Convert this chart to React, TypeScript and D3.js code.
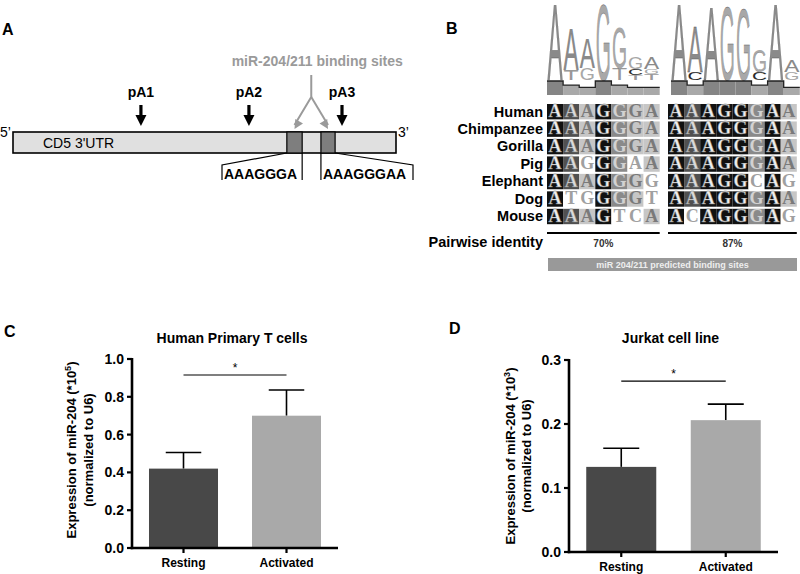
import React from 'react';
import * as d3 from 'd3';

// ---------- Panel A data ----------
const utrName = "CD5 3'UTR";
const polyASites = [
  { name: 'pA1', pos: 33.4 },
  { name: 'pA2', pos: 61.6 },
  { name: 'pA3', pos: 85.9 },
];
const bindingSites = [
  { start: 71.5, end: 75.5, seq: 'AAAGGGA' },
  { start: 80.4, end: 84.1, seq: 'AAAGGGAA' },
];
const bindingTitle = 'miR-204/211 binding sites';

// ---------- Panel B data ----------
const species = ['Human', 'Chimpanzee', 'Gorilla', 'Pig', 'Elephant', 'Dog', 'Mouse'];
const site1Seqs = ['AAAGGGA', 'AAAGGGA', 'AAAGGGA', 'AAGGGAA', 'AAAGGGG', 'ATGGGGT', 'AAAGTCA'];
const site1Shade = ['4314211', '4314211', '4314211', '4304201', '4314210', '4004210', '4314001'];
const site2Seqs = ['AAAGGGAA', 'AAAGGGAA', 'AAAGGGAA', 'AAAGGGAA', 'AAAGGCAG', 'AAAGGGAA', 'ACAGGGAG'];
const site2Shade = ['43444241', '43444241', '43444241', '43444241', '43444040', '43444241', '40444240'];
const identities = ['70%', '87%'];
const site1Logo: [string, number][][] = [
  [['A', 77]],
  [['T', 10], ['A', 43]],
  [['G', 12], ['A', 31]],
  [['G', 77]],
  [['T', 12], ['G', 41]],
  [['T', 5], ['C', 6], ['G', 12]],
  [['T', 6], ['G', 5], ['A', 12]],
];
const site2Logo: [string, number][][] = [
  [['A', 77]],
  [['C', 8], ['A', 47]],
  [['A', 75]],
  [['G', 75]],
  [['G', 73]],
  [['C', 8], ['G', 22]],
  [['A', 77]],
  [['G', 8], ['A', 12]],
];
const site1Conservation = [1, 0.7, 0.55, 1, 0.7, 0.55, 0.55];
const site2Conservation = [1, 0.7, 1, 1, 1, 0.7, 1, 0.55];
const predictedLabel = 'miR 204/211 predicted binding  sites';

// ---------- Panels C / D data ----------
const conditions = ['Resting', 'Activated'];
const primaryMeans = [0.42, 0.70];
const primaryErrors = [0.085, 0.136];
const primaryTicks = [0, 0.2, 0.4, 0.6, 0.8, 1.0];
const primarySig = 0.915;
const jurkatMeans = [0.133, 0.206];
const jurkatErrors = [0.029, 0.025];
const jurkatTicks = [0, 0.1, 0.2, 0.3];
const jurkatSig = 0.267;

const SANS = "'Liberation Sans', Arial, Helvetica, sans-serif";
const SERIF = "'Liberation Serif', 'Times New Roman', serif";

const shadeBg = ['#ffffff', '#c6c6c6', '#8a8a8a', '#505050', '#111111'];
const shadeFg = ['#a0a0a0', '#7a7a7a', '#d2d2d2', '#dadada', '#eeeeee'];
const adv: Record<string, number> = { A: 0.667, G: 0.778, C: 0.722, T: 0.611 };
const logoFill: Record<string, string> = { A: '#8a8a8a', G: '#a8a8a8', C: '#2a2a2a', T: '#9a9a9a' };

function PanelA() {
  const xs = d3.scaleLinear().domain([0, 100]).range([13, 396]);
  const barTop = 132, barBot = 153;
  const b1 = bindingSites[0], b2 = bindingSites[1];
  const c1 = xs((b1.start + b1.end) / 2), c2 = xs((b2.start + b2.end) / 2);
  const stemX = (c1 + c2) / 2;
  return (
    <g fontFamily={SANS}>
      <text x={2} y={35} fontSize={16} fontWeight="bold">A</text>
      <text x={stemX + 6} y={66} fontSize={14} fontWeight="bold" fill="#9a9a9a" textAnchor="middle">{bindingTitle}</text>
      <path d={`M${stemX},75 L${stemX},97 L${c1},125`} fill="none" stroke="#9a9a9a" strokeWidth={2} />
      <path d={`M${stemX},97 L${c2},125`} fill="none" stroke="#9a9a9a" strokeWidth={2} />
      {[c1, c2].map((c, i) => {
        const dx = (c - stemX), dy = 28;
        const len = Math.hypot(dx, dy);
        const ux = dx / len, uy = dy / len;
        const tx = c, ty = 129;
        const bx = tx - ux * 9, by = ty - uy * 9;
        return <path key={i} d={`M${tx},${ty} L${bx - uy * 4.5},${by + ux * 4.5} L${bx + uy * 4.5},${by - ux * 4.5} Z`} fill="#9a9a9a" />;
      })}
      {polyASites.map(p => {
        const x = xs(p.pos);
        return (
          <g key={p.name}>
            <text x={x} y={97} fontSize={14} fontWeight="bold" textAnchor="middle">{p.name}</text>
            <rect x={x - 1.6} y={105} width={3.2} height={12} fill="#000" />
            <path d={`M${x - 5.5},115 L${x + 5.5},115 L${x},126 Z`} fill="#000" />
          </g>
        );
      })}
      <rect x={xs(0)} y={barTop} width={xs(100) - xs(0)} height={barBot - barTop} fill="#e0e0e0" stroke="#000" strokeWidth={1.6} />
      <text x={0} y={137} fontSize={14}>5’</text>
      <text x={xs(100) + 2} y={137} fontSize={14}>3’</text>
      <text x={43} y={148} fontSize={14}>{utrName}</text>
      {bindingSites.map((b, i) => (
        <rect key={i} x={xs(b.start)} y={barTop} width={xs(b.end) - xs(b.start)} height={barBot - barTop} fill="#7e7e7e" stroke="#000" strokeWidth={1.2} />
      ))}
      <path d={`M${xs(b1.start)},${barBot} L222,165 L222,180`} fill="none" stroke="#000" strokeWidth={1.2} />
      <path d={`M${xs(b1.end)},${barBot} L${xs(b1.end)},180`} fill="none" stroke="#000" strokeWidth={1.2} />
      <path d={`M${xs(b2.start)},${barBot} L${xs(b2.start)},180`} fill="none" stroke="#000" strokeWidth={1.2} />
      <path d={`M${xs(b2.end)},${barBot} L413,165 L413,180`} fill="none" stroke="#000" strokeWidth={1.2} />
      <text x={224} y={179} fontSize={14} fontWeight="bold">{b1.seq}</text>
      <text x={323} y={179} fontSize={14} fontWeight="bold">{b2.seq}</text>
    </g>
  );
}

function Logo({ cols, cons, x0, cw }: { cols: [string, number][][]; cons: number[]; x0: number; cw: number }) {
  const base = 80;
  const hScale = d3.scaleLinear().domain([0, 1]).range([0, 14]);
  const barBottom = 95;
  const tops = cons.map(c => barBottom - hScale(c));
  let step = '';
  cons.forEach((c, i) => {
    const xL = x0 + i * cw, xR = xL + cw;
    step += `${i === 0 ? 'M' : 'L'}${xL},${tops[i]} L${xR},${tops[i]} `;
  });
  return (
    <g>
      {cols.map((col, i) => {
        let y = base;
        return col.map(([L, h], j) => {
          const yb = y;
          y -= h;
          const F = 10;
          const sx = (cw - 1) / (adv[L] * F);
          const sy = h / (0.716 * F);
          return (
            <text key={`${i}-${j}`} transform={`translate(${x0 + i * cw + 0.5},${yb}) scale(${sx},${sy})`}
              fontSize={F} fontFamily={SANS} fill={logoFill[L]} stroke="#555" strokeWidth={0.04}>{L}</text>
          );
        });
      })}
      {cons.map((c, i) => (
        <rect key={`b${i}`} x={x0 + i * cw} y={tops[i]} width={cw} height={barBottom - tops[i]} fill={c >= 1 ? '#858585' : '#a9a9a9'} />
      ))}
      <path d={step} fill="none" stroke="#222" strokeWidth={1.3} />
    </g>
  );
}

function Alignment({ seqs, shades, x0, cw }: { seqs: string[]; shades: string[]; x0: number; cw: number }) {
  const ys = d3.scaleBand().domain(species).range([104, 104 + 17.17 * 7]).paddingInner(0.12).paddingOuter(0);
  return (
    <g>
      {seqs.map((s, r) => s.split('').map((ch, c) => {
        const lvl = +shades[r][c];
        const y = ys(species[r])!;
        return (
          <g key={`${r}-${c}`}>
            <rect x={x0 + c * cw} y={y} width={cw} height={ys.bandwidth()} fill={shadeBg[lvl]} />
            <text x={x0 + c * cw + cw / 2} y={y + 13} textAnchor="middle" fontFamily={SERIF} fontSize={18} fontWeight="bold"
              fill={shadeFg[lvl]} stroke={lvl >= 3 ? '#777' : 'none'} strokeWidth={0.4}>{ch}</text>
          </g>
        );
      }))}
    </g>
  );
}

function PanelB() {
  const cw = 16.1;
  const x1 = 547, x2 = 668;
  const ys = d3.scaleBand().domain(species).range([104, 104 + 17.17 * 7]).paddingInner(0.12).paddingOuter(0);
  return (
    <g fontFamily={SANS}>
      <text x={446} y={34} fontSize={16} fontWeight="bold">B</text>
      <Logo cols={site1Logo} cons={site1Conservation} x0={x1} cw={cw} />
      <Logo cols={site2Logo} cons={site2Conservation} x0={x2 + 3} cw={cw} />
      {species.map(s => (
        <text key={s} x={543} y={ys(s)! + 12.5} textAnchor="end" fontSize={14.5} fontWeight="bold">{s}</text>
      ))}
      <Alignment seqs={site1Seqs} shades={site1Shade} x0={x1} cw={cw} />
      <Alignment seqs={site2Seqs} shades={site2Shade} x0={x2} cw={cw} />
      <line x1={x1} x2={x1 + 7 * cw} y1={233} y2={233} stroke="#000" strokeWidth={2} />
      <line x1={x2} x2={x2 + 8 * cw} y1={233} y2={233} stroke="#000" strokeWidth={2} />
      <text x={543} y={247} textAnchor="end" fontSize={14.5} fontWeight="bold">Pairwise identity</text>
      <text x={x1 + 3.5 * cw} y={247} textAnchor="middle" fontSize={10} fontWeight="bold" fill="#333">{identities[0]}</text>
      <text x={x2 + 4 * cw} y={247} textAnchor="middle" fontSize={10} fontWeight="bold" fill="#333">{identities[1]}</text>
      <rect x={548} y={258} width={249} height={13} fill="#999" />
      <text x={548 + 249 / 2} y={268} textAnchor="middle" fontSize={9} fontWeight="bold" fill="#eee">{predictedLabel}</text>
    </g>
  );
}

type BarProps = {
  letter: string; letterX: number; letterY: number;
  title: string; titleY: number;
  xRange: [number, number]; yRange: [number, number];
  domainMax: number; ticks: number[]; means: number[]; errors: number[];
  sig: number; exp: string; labelX1: number; labelX2: number; labelCY: number;
  catY: number;
};

function BarPanel(p: BarProps) {
  const x = d3.scaleBand().domain(conditions).range(p.xRange).paddingInner(0.33).paddingOuter(0.165);
  const y = d3.scaleLinear().domain([0, p.domainMax]).range(p.yRange);
  const fmt = d3.format('.1f');
  const colors = ['#484848', '#a9a9a9'];
  const ax = p.xRange[0];
  const cx = (c: string) => x(c)! + x.bandwidth() / 2;
  const capW = x.bandwidth() / 2 + 1;
  return (
    <g fontFamily={SANS}>
      <text x={p.letterX} y={p.letterY} fontSize={16} fontWeight="bold">{p.letter}</text>
      <text x={(p.xRange[0] + p.xRange[1]) / 2 - 3} y={p.titleY} textAnchor="middle" fontSize={14} fontWeight="bold">{p.title}</text>
      {conditions.map((c, i) => (
        <g key={c}>
          <line x1={cx(c)} x2={cx(c)} y1={y(p.means[i])} y2={y(p.means[i] + p.errors[i])} stroke="#000" strokeWidth={1.6} />
          <line x1={cx(c) - capW / 2} x2={cx(c) + capW / 2} y1={y(p.means[i] + p.errors[i])} y2={y(p.means[i] + p.errors[i])} stroke="#000" strokeWidth={1.6} />
          <rect x={x(c)} y={y(p.means[i])} width={x.bandwidth()} height={y(0) - y(p.means[i])} fill={colors[i]} />
        </g>
      ))}
      <line x1={ax} x2={ax} y1={y(0) + 1.2} y2={y(p.domainMax) - 1} stroke="#000" strokeWidth={2.6} />
      <line x1={ax - 1.3} x2={p.xRange[1]} y1={y(0)} y2={y(0)} stroke="#000" strokeWidth={2.6} />
      {p.ticks.map(t => (
        <g key={t}>
          <line x1={ax - 5} x2={ax} y1={y(t)} y2={y(t)} stroke="#000" strokeWidth={2.2} />
          <text x={ax - 8} y={y(t) + 5} textAnchor="end" fontSize={14} fontWeight="bold">{fmt(t)}</text>
        </g>
      ))}
      {conditions.map(c => (
        <g key={c}>
          <line x1={cx(c)} x2={cx(c)} y1={y(0)} y2={y(0) + 5} stroke="#000" strokeWidth={2.2} />
          <text x={cx(c)} y={p.catY} textAnchor="middle" fontSize={12} fontWeight="bold">{c}</text>
        </g>
      ))}
      <line x1={cx(conditions[0])} x2={cx(conditions[1])} y1={y(p.sig)} y2={y(p.sig)} stroke="#000" strokeWidth={1.1} />
      <text x={(cx(conditions[0]) + cx(conditions[1])) / 2} y={y(p.sig) - 3} textAnchor="middle" fontSize={12}>*</text>
      <text transform={`translate(${p.labelX1},${p.labelCY}) rotate(-90)`} textAnchor="middle" fontSize={13} fontWeight="bold">
        Expression of miR-204 (*10<tspan dy={-5} fontSize={9}>{p.exp}</tspan><tspan dy={5}>)</tspan>
      </text>
      <text transform={`translate(${p.labelX2},${p.labelCY}) rotate(-90)`} textAnchor="middle" fontSize={13} fontWeight="bold">
        (normalized to U6)
      </text>
    </g>
  );
}

export default function App() {
  return (
    <svg width={800} height={574} viewBox="0 0 800 574" style={{ position: 'absolute', left: 0, top: 0, background: '#fff' }}>
      <rect x={0} y={0} width={800} height={574} fill="#fff" />
      <PanelA />
      <PanelB />
      <BarPanel letter="C" letterX={4} letterY={337} title="Human Primary T cells" titleY={343}
        xRange={[132, 338]} yRange={[548, 359]} domainMax={1.0} ticks={primaryTicks}
        means={primaryMeans} errors={primaryErrors} sig={primarySig} exp="5"
        labelX1={76} labelX2={93} labelCY={450} catY={567} />
      <BarPanel letter="D" letterX={449} letterY={334} title="Jurkat cell line" titleY={343}
        xRange={[569, 778]} yRange={[552, 360]} domainMax={0.3} ticks={jurkatTicks}
        means={jurkatMeans} errors={jurkatErrors} sig={jurkatSig} exp="3"
        labelX1={515} labelX2={531} labelCY={456} catY={571} />
    </svg>
  );
}
